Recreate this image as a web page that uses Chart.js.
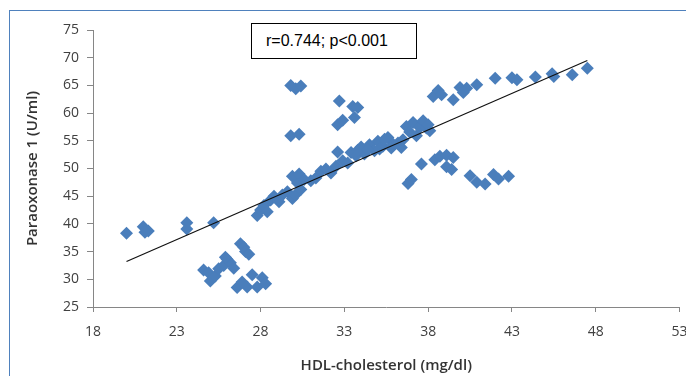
<!DOCTYPE html>
<html>
<head>
<meta charset="utf-8">
<script src="https://cdn.jsdelivr.net/npm/chart.js@4.4.1/dist/chart.umd.min.js"></script>
<style>
  html, body { margin: 0; padding: 0; background: #fff; }
  #wrap { position: relative; width: 686px; height: 376px; overflow: hidden; }
  #frame { position: absolute; left: 9px; top: 10px; width: 700px; height: 400px; border: 1px solid #4f81bd; box-sizing: border-box; pointer-events: none; }
  #c { position: absolute; left: 0; top: 0; }
  #note { position: absolute; left: 251px; top: 23px; width: 166px; height: 36px; border: 1px solid #000; box-sizing: border-box; background: #fff;
          font-family: "Liberation Sans", Arial, sans-serif; font-size: 16px; line-height: 34px; padding-left: 14px; color: #000; }
</style>
</head>
<body>
<div id="wrap">
  <canvas id="c" width="686" height="376"></canvas>
  <div id="frame"></div>
  <div id="note">r=0.744; p&lt;0.001</div>
</div>
<script>
// HDL-cholesterol (mg/dl)
const hdl = [
  20.0, 21.0, 21.3, 21.1, 23.6, 23.6, 25.2,
  24.6, 24.9, 25.0, 25.3, 25.5, 25.8, 26.0, 26.2, 26.4, 25.9,
  26.8, 27.0, 27.1, 27.3, 26.6, 26.9, 27.2, 27.5, 27.8, 28.1, 28.3,
  27.8, 28.0, 28.2, 28.4, 28.6, 28.8, 29.1, 29.3, 29.6, 29.9, 30.1, 30.2, 29.9, 30.3, 30.6, 30.4,
  31.0, 31.3, 31.6, 31.9, 32.2, 32.5, 32.6, 32.9, 33.2, 33.4, 33.7, 34.0, 34.2, 34.5, 34.8,
  35.0, 35.3, 35.6, 35.9, 36.2, 36.4, 36.7, 36.9, 37.1, 37.3, 37.5, 37.7, 37.9, 38.1, 38.0,
  33.8, 34.4, 35.1, 35.8, 36.5, 35.4,
  29.8, 30.1, 30.4, 32.7, 33.5, 33.8, 33.6, 32.6, 32.9, 29.8, 30.3,
  36.8, 37.0, 37.6, 38.4, 38.7, 39.1, 39.5, 39.1, 39.4, 40.5, 40.9, 41.4, 41.9, 42.2, 42.8,
  38.3, 38.6, 38.8, 39.5, 39.9, 40.3, 40.1, 40.9, 42.0, 43.0, 43.3, 44.4, 45.4, 45.5, 46.6, 47.5
];
// Paraoxonase 1 (U/ml)
const pon1 = [
  38.3, 39.5, 38.7, 38.5, 40.2, 39.1, 40.2,
  31.7, 31.2, 29.7, 30.6, 31.9, 32.5, 33.6, 33.0, 32.0, 34.0,
  36.4, 35.8, 35.0, 34.5, 28.5, 29.5, 28.6, 30.8, 28.6, 30.3, 29.2,
  41.5, 42.5, 43.3, 42.2, 44.3, 45.0, 44.0, 45.2, 45.8, 44.6, 45.3, 47.4, 48.6, 49.0, 48.0, 46.2,
  47.8, 48.3, 49.5, 49.9, 49.2, 50.4, 53.0, 51.4, 51.0, 52.9, 52.3, 53.9, 52.6, 54.3, 53.2,
  54.9, 54.0, 55.6, 54.4, 54.6, 53.8, 57.6, 56.6, 58.3, 55.9, 57.4, 58.6, 57.3, 56.8, 57.9,
  53.3, 53.4, 53.5, 53.7, 55.2, 55.3,
  65.0, 64.4, 64.9, 62.2, 61.2, 61.0, 59.2, 57.9, 58.7, 55.9, 56.2,
  47.3, 48.0, 50.8, 51.6, 52.2, 52.4, 52.0, 50.3, 49.8, 48.7, 47.5, 47.2, 48.9, 48.1, 48.6,
  63.0, 64.1, 63.3, 62.4, 64.6, 64.5, 63.7, 65.1, 66.3, 66.4, 66.0, 66.5, 67.1, 66.6, 66.9, 68.1
];
// Linear trend line end points
const trendX = [20.0, 47.5];
const trendY = [33.2, 69.5];
// Axis ranges / ticks
const xTicks = [18, 23, 28, 33, 38, 43, 48, 53];
const yTicks = [25, 30, 35, 40, 45, 50, 55, 60, 65, 70, 75];

const points = hdl.map((x, i) => ({ x: x, y: pon1[i] }));
const trend = trendX.map((x, i) => ({ x: x, y: trendY[i] }));

const tickFont = { family: "'Open Sans', sans-serif", size: 14 };
const titleFont = { family: "'Open Sans', sans-serif", size: 15, weight: '600' };
const axisGray = '#868686';

new Chart(document.getElementById('c'), {
  type: 'scatter',
  data: {
    datasets: [
      { type: 'line', data: trend, borderColor: '#111', borderWidth: 1.2, pointRadius: 0, fill: false, order: 0 },
      { data: points, pointStyle: 'rectRot', pointRadius: 6.5, pointHoverRadius: 6.5,
        backgroundColor: '#4a7ebb', borderColor: '#4a7ebb', borderWidth: 0, order: 1 }
    ]
  },
  options: {
    responsive: false,
    animation: false,
    devicePixelRatio: 1,
    layout: { padding: { left: 0, right: 6, top: 30, bottom: 0 } },
    plugins: { legend: { display: false }, tooltip: { enabled: false } },
    scales: {
      x: {
        type: 'linear', min: xTicks[0], max: xTicks[xTicks.length - 1],
        afterBuildTicks: s => { s.ticks = xTicks.map(v => ({ value: v })); },
        afterFit: s => { s.height = 376 - 307; s.paddingLeft = 0; s.paddingRight = 0; },
        grid: { drawOnChartArea: false, drawTicks: true, tickLength: 5, color: axisGray },
        border: { color: axisGray, width: 1 },
        ticks: { font: tickFont, color: '#404040', padding: 12, maxRotation: 0 },
        title: { display: true, text: 'HDL-cholesterol (mg/dl)', font: titleFont, color: '#333', padding: { top: 0, bottom: 1 } }
      },
      y: {
        type: 'linear', min: yTicks[0], max: yTicks[yTicks.length - 1],
        afterBuildTicks: s => { s.ticks = yTicks.map(v => ({ value: v })); },
        afterFit: s => { s.width = 93; s.paddingTop = 0; s.paddingBottom = 0; },
        grid: { drawOnChartArea: false, drawTicks: true, tickLength: 6, color: axisGray },
        border: { color: axisGray, width: 1 },
        ticks: { font: tickFont, color: '#404040', padding: 8 },
        title: { display: true, text: 'Paraoxonase 1 (U/ml)', font: titleFont, color: '#333', padding: { top: 24, bottom: 0 } }
      }
    }
  }
});
</script>
</body>
</html>
